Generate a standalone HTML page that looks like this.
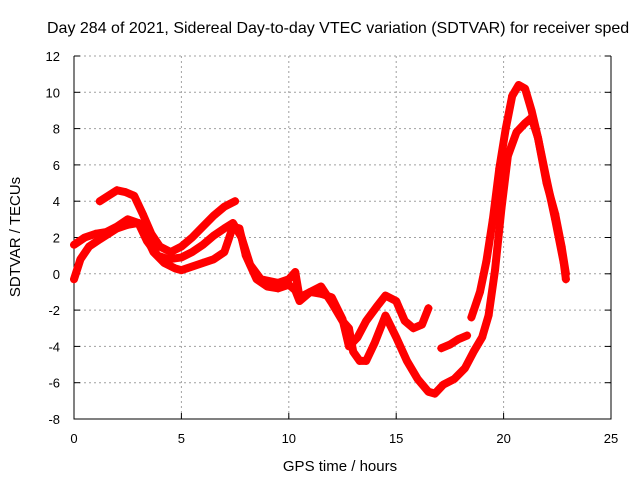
<!DOCTYPE html>
<html><head><meta charset="utf-8"><style>
body{margin:0;background:#fff}
svg{display:block;font-family:"Liberation Sans",sans-serif}
</style></head><body>
<svg id="chart" width="640" height="480" viewBox="0 0 640 480">
<rect width="640" height="480" fill="#fff"/>
<text x="47" y="33" font-size="16" fill="#000">Day 284 of 2021, Sidereal Day-to-day VTEC variation (SDTVAR) for receiver sped</text>
<g id="grid"></g>
<g id="axes"></g>
<g id="series"></g>
<text x="340" y="471" font-size="15" text-anchor="middle">GPS time / hours</text>
<text transform="translate(20,237) rotate(-90)" font-size="15" text-anchor="middle">SDTVAR / TECUs</text>
</svg>
<script>
const xTicks=[0,5,10,15,20,25];
const yTicks=[-8,-6,-4,-2,0,2,4,6,8,10,12];
const tA=[1.2,1.6,2.0,2.4,2.8,3.2,3.6,4.0,4.5,5.0,5.5,6.0,6.5,7.0,7.5];
const vA=[4.0,4.3,4.6,4.5,4.3,3.3,2.2,1.5,1.2,1.5,2.0,2.6,3.2,3.7,4.0];
const tB=[0,0.3,0.7,1.2,1.6,2.0,2.5,3.0,3.3,3.7,4.2,4.7,5.0,5.5,6.0,6.5,7.0,7.4,7.7,8.0,8.5,9.0,9.5,10.0,10.3,10.5,11.0,11.5,12.0,12.5,12.8,13.0,13.3,13.6,14.0,14.5,15.0,15.5,16.0,16.5,16.8,17.2,17.7,18.2,18.6,19.0,19.3,19.6,19.9,20.2,20.6,21.0,21.3,21.6,22.0,22.4,22.7,22.9];
const vB=[-0.3,0.8,1.5,1.9,2.2,2.5,2.7,2.8,2.2,1.2,0.6,0.3,0.2,0.4,0.6,0.8,1.2,2.6,2.5,1.0,-0.3,-0.7,-0.8,-0.6,-0.9,-1.5,-1.0,-0.7,-1.6,-2.6,-3.0,-4.3,-4.8,-4.8,-3.8,-2.3,-3.5,-4.8,-5.8,-6.5,-6.6,-6.1,-5.8,-5.2,-4.3,-3.5,-2.3,0.2,3.6,6.5,7.8,8.3,8.6,7.5,5.0,3.3,1.5,0.0];
const tC=[0,0.5,1.0,1.5,2.0,2.5,3.0,3.4,3.9,4.4,5.0,5.5,6.0,6.5,7.0,7.4,7.8,8.2,8.7,9.5,10.0,10.3,10.5,11.0,11.5,12.0,12.5,12.8,13.2,13.6,14.1,14.5,15.0,15.4,15.8,16.2,16.5];
const vC=[1.6,2.0,2.2,2.3,2.6,3.0,2.8,1.8,1.0,0.8,0.9,1.2,1.6,2.1,2.5,2.8,2.0,0.5,-0.3,-0.5,-0.3,0.1,-1.3,-1.0,-1.1,-1.3,-2.5,-4.0,-3.5,-2.6,-1.8,-1.2,-1.5,-2.6,-3.0,-2.8,-1.9];
const tD=[17.1,17.5,17.9,18.3];
const vD=[-4.1,-3.9,-3.6,-3.4];
const tE=[18.5,18.9,19.2,19.5,19.8,20.1,20.4,20.7,21.0,21.3,21.6,22.0,22.4,22.8,22.9];
const vE=[-2.4,-1.0,0.7,3.0,5.8,8.0,9.8,10.4,10.2,9.0,7.5,5.2,3.0,0.6,-0.3];
const X0=74,X1=611,Y0=419,Y1=56;
const xs=h=>X0+h/25*(X1-X0);
const ys=v=>Y0-(v+8)/20*(Y0-Y1);
const NS="http://www.w3.org/2000/svg";
function mk(tag,attrs,parent){const e=document.createElementNS(NS,tag);for(const k in attrs)e.setAttribute(k,attrs[k]);parent.appendChild(e);return e;}
const grid=document.getElementById('grid'),axes=document.getElementById('axes'),ser=document.getElementById('series');
xTicks.forEach(t=>{const x=xs(t);
 if(t>0&&t<25){const l=mk('line',{x1:x,x2:x,y1:Y1,y2:Y0,stroke:'#a0a0a0','stroke-dasharray':'2,3'},grid);
 
 }
 mk('line',{x1:x,x2:x,y1:Y0,y2:Y0-6,stroke:'#000'},axes);
 const tx=mk('text',{x:x,y:Y0+24,'font-size':13,'text-anchor':'middle'},axes);tx.textContent=t;
 
 });
yTicks.forEach(t=>{const y=ys(t);
 if(t>-8){const l=mk('line',{x1:X0,x2:X1,y1:y,y2:y,stroke:'#a0a0a0','stroke-dasharray':'2,3'},grid);
 
 }
 mk('line',{x1:X0,x2:X0+6,y1:y,y2:y,stroke:'#000'},axes);
 mk('line',{x1:X1,x2:X1-6,y1:y,y2:y,stroke:'#000'},axes);
 const tx=mk('text',{x:X0-14,y:y+5,'font-size':13,'text-anchor':'end'},axes);tx.textContent=t;
 
 });
mk('path',{d:`M${X0} ${Y1}V${Y0}H${X1}V${Y1}`,fill:'none',stroke:'#000'},axes);
[[tA,vA],[tB,vB],[tC,vC],[tD,vD],[tE,vE]].forEach((s,i)=>{
 const g=mk('g',{},ser);
 
 
 const pts=s[0].map((t,j)=>xs(t)+','+ys(s[1][j])).join(' ');
 mk('polyline',{points:pts,fill:'none',stroke:'#ff0000','stroke-width':8,'stroke-linejoin':'round','stroke-linecap':'round'},g);
 s[0].forEach((t,j)=>{const x=xs(t),y=ys(s[1][j]);
  mk('path',{d:`M${x-4} ${y}H${x+4}M${x} ${y-4}V${y+4}`,stroke:'#ff0000','stroke-width':1.5},g);});
});
</script>
</body></html>
